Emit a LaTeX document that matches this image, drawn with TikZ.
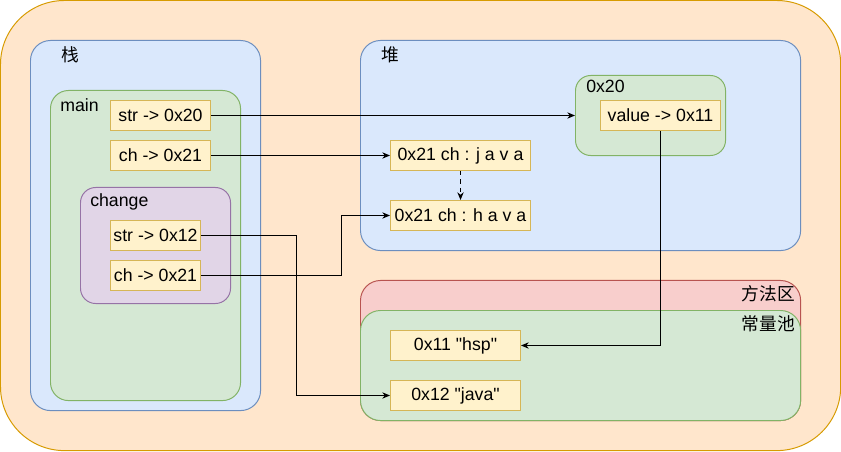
\documentclass[tikz,border=0pt]{standalone}
\usepackage{fontspec}
\setmainfont{Liberation Sans}[Ligatures=TeXOff]
\newfontfamily\cjk{Noto Sans CJK SC}
\usetikzlibrary{positioning, arrows.meta, calc}
\definecolor{outerfill}{HTML}{FFE6CC}
\definecolor{outerline}{HTML}{D79B00}
\definecolor{bluefill}{HTML}{DAE8FC}
\definecolor{blueline}{HTML}{6C8EBF}
\definecolor{greenfill}{HTML}{D5E8D4}
\definecolor{greenline}{HTML}{82B366}
\definecolor{purplefill}{HTML}{E1D5E7}
\definecolor{purpleline}{HTML}{9673A6}
\definecolor{redfill}{HTML}{F8CECC}
\definecolor{redline}{HTML}{B85450}
\definecolor{cellfill}{HTML}{FFF2CC}
\definecolor{cellline}{HTML}{D6B656}
\tikzset{
  region/.style={rectangle, rounded corners=0.5cm, anchor=north west, inner sep=0pt, line width=0.7pt},
  cell/.style={rectangle, anchor=north west, minimum height=0.75cm, inner sep=0pt, align=center, draw=cellline, fill=cellfill, line width=0.7pt},
  title/.style={inner sep=0pt},
  arrow/.style={line width=0.7pt,-{Stealth[length=5.5pt,width=4.5pt]}}
}

\begin{document}
\begin{tikzpicture}[x=0.025cm, y=-0.025cm, every node/.style={font=\fontsize{12.6}{14}\selectfont}]
            \useasboundingbox (0,0) rectangle (841,452);
            \node (outer) [region, rounded corners=1.6cm, draw=outerline, fill=outerfill, minimum width=21cm, minimum height=11.25cm] at (0,0) {};

            % Stack
            \node (stack) [region, draw=blueline, fill=bluefill, minimum width=5.75cm, minimum height=9.25cm] at (30,40) {};
            \node (stacklbl) [title] at (70,55) {\cjk 栈};
            \node (main) [region, rounded corners=0.45cm, draw=greenline, fill=greenfill, minimum width=4.75cm, minimum height=7.75cm] at (50,90) {};
            \node (mainlbl) [title, anchor=west] at (60,105) {main};
            \node (mstr) [cell, minimum width=2.5cm] at (110,100) {str -> 0x20};
            \node (mch) [cell, minimum width=2.5cm] at (110,140) {ch -> 0x21};
            \node (change) [region, rounded corners=0.38cm, draw=purpleline, fill=purplefill, minimum width=3.75cm, minimum height=2.9cm] at (80,187) {};
            \node (changelbl) [title, anchor=west] at (90,202) {change};
            \node (cstr) [cell, minimum width=2.25cm] at (110,220) {str -> 0x12};
            \node (cch) [cell, minimum width=2.25cm] at (110,260) {ch -> 0x21};

            % Heap
            \node (heap) [region, draw=blueline, fill=bluefill, minimum width=11cm, minimum height=5.25cm] at (360,40) {};
            \node (heaplbl) [title] at (390,55) {\cjk 堆};
            \node (obj) [region, rounded corners=0.38cm, draw=greenline, fill=greenfill, minimum width=3.75cm, minimum height=2cm] at (575,75) {};
            \node (objlbl) [title, anchor=west] at (586,86) {0x20};
            \node (value) [cell, minimum width=3cm] at (600,100) {value -> 0x11};
            \node (java) [cell, minimum width=3.5cm] at (390,140) {0x21 ch : j a v a};
            \node (hava) [cell, minimum width=3.5cm] at (390,200) {0x21 ch : h a v a};

            % Method area
            \node (method) [region, draw=redline, fill=redfill, minimum width=11cm, minimum height=3.5cm] at (360,280) {};
            \node (pool) [region, draw=greenline, fill=greenfill, minimum width=11cm, minimum height=2.75cm] at (360,310) {};
            \node (methodlbl) [title, anchor=east] at (795,294) {\cjk 方法区};
            \node (poollbl) [title, anchor=east] at (795,324) {\cjk 常量池};
            \node (hsp) [cell, minimum width=3.25cm] at (390,330) {0x11 "hsp"};
            \node (jstr) [cell, minimum width=3.25cm] at (390,380) {0x12 "java"};

            % References
            \draw [arrow] (mstr.east) -- (obj.west);
            \draw [arrow] (mch.east) -- (java.west);
            \draw [arrow] (cstr.east) -- ++(95,0) |- (jstr.west);
            \draw [arrow] (cch.east) -- ++(140,0) |- (hava.west);
            \draw [arrow] (value.south) |- (hsp.east);
            \draw [arrow, dashed] (java) -- (hava);
        \end{tikzpicture}
\end{document}
